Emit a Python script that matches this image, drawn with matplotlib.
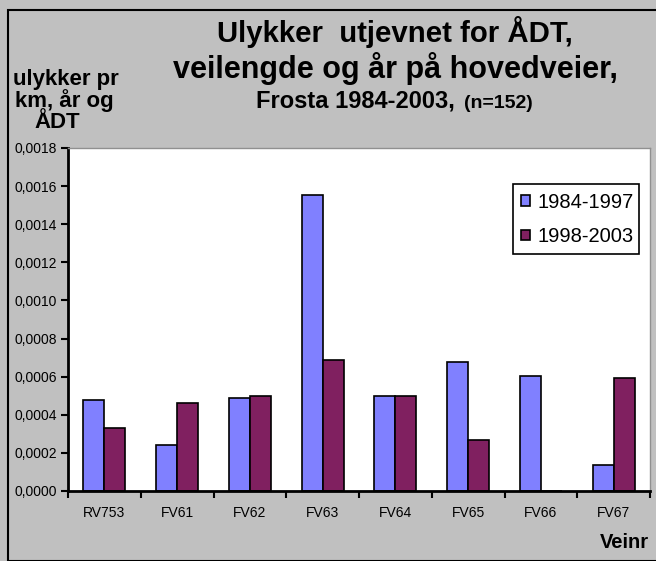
import matplotlib.pyplot as plt
import numpy as np
from matplotlib.patches import Rectangle
from matplotlib.ticker import FuncFormatter, FixedLocator

plt.rcParams['font.family'] = ['Liberation Sans', 'DejaVu Sans']

veier = ['RV753', 'FV61', 'FV62', 'FV63', 'FV64', 'FV65', 'FV66', 'FV67']
p1984_1997 = [0.00048, 0.00024, 0.00049, 0.001555, 0.0005, 0.000677, 0.000604, 0.000136]
p1998_2003 = [0.000333, 0.00046, 0.0005, 0.000688, 0.0005, 0.00027, 0.0, 0.000593]
serier = ['1984-1997', '1998-2003']

blaa = '#8080FF'
lilla = '#802060'
graa = '#C0C0C0'

W, H = 656, 561
fig = plt.figure(figsize=(W / 100, H / 100), dpi=100, facecolor=graa)


def fx(px):
    return px / W


def fy(py):
    return 1 - py / H


# ramme rundt diagrammet
fig.patches.append(Rectangle((fx(8), 0), 1, fy(10), transform=fig.transFigure,
                             fill=False, edgecolor='black', linewidth=1.5))

ax = fig.add_axes([fx(68), fy(491), (650 - 68) / W, (491 - 148) / H])
ax.set_facecolor('white')

x = np.arange(len(veier))
bw = 0.29
ax.bar(x - bw / 2, p1984_1997, bw, color=blaa, edgecolor='black', linewidth=1.2, label=serier[0])
ax.bar(x + bw / 2, p1998_2003, bw, color=lilla, edgecolor='black', linewidth=1.2, label=serier[1])

ax.set_xlim(-0.5, len(veier) - 0.5)
ax.set_ylim(0, 0.0018)
ax.set_yticks(np.arange(0, 0.00181, 0.0002))
ax.yaxis.set_major_formatter(FuncFormatter(lambda v, p: f'{v:.4f}'.replace('.', ',')))
ax.tick_params(axis='y', direction='out', length=5, width=1.5, labelsize=10, pad=3)

ax.set_xticks(x)
ax.set_xticklabels(veier, fontsize=10)
ax.xaxis.set_minor_locator(FixedLocator(np.arange(-0.5, len(veier), 1)))
ax.tick_params(axis='x', which='major', length=0, pad=11)
ax.tick_params(axis='x', which='minor', direction='out', length=5, width=1.5)

for s in ['left', 'bottom']:
    ax.spines[s].set_linewidth(2)
for s in ['top', 'right']:
    ax.spines[s].set_color('#909090')
    ax.spines[s].set_linewidth(1)

# forklaring
ax.add_patch(Rectangle((fx(513), fy(254)), (639 - 513) / W, (254 - 184) / H,
                       transform=fig.transFigure, facecolor='white', clip_on=False,
                       edgecolor='black', linewidth=1.2, zorder=5))
leg = ax.legend(loc='upper left', bbox_to_anchor=(fx(521), fy(193)),
                bbox_transform=fig.transFigure, fontsize=14.5, frameon=False,
                handlelength=0.45, handleheight=0.45, handletextpad=0.35,
                borderpad=0, labelspacing=0.75, borderaxespad=0)
leg.set_zorder(6)

# titler
fig.text(fx(394.5), fy(41.7), 'Ulykker  utjevnet for ÅDT,', ha='center', va='baseline',
         fontsize=21.2, fontweight='bold')
fig.text(fx(395.5), fy(77.7), 'veilengde og år på hovedveier,', ha='center', va='baseline',
         fontsize=22, fontweight='bold')
fig.text(fx(256), fy(107.7), 'Frosta 1984-2003,', ha='left', va='baseline',
         fontsize=17, fontweight='bold')
fig.text(fx(464), fy(107.7), '(n=152)', ha='left', va='baseline',
         fontsize=14, fontweight='bold')

fig.text(fx(65.5), fy(85), 'ulykker pr', ha='center', va='baseline', fontsize=16, fontweight='bold')
fig.text(fx(64), fy(106.7), 'km, år og', ha='center', va='baseline', fontsize=16, fontweight='bold')
fig.text(fx(57), fy(128), 'ÅDT', ha='center', va='baseline', fontsize=16, fontweight='bold')

fig.text(fx(600), fy(547.7), 'Veinr', ha='left', va='baseline', fontsize=14.5, fontweight='bold')

fig.savefig('out.png', dpi=100, facecolor=graa)
